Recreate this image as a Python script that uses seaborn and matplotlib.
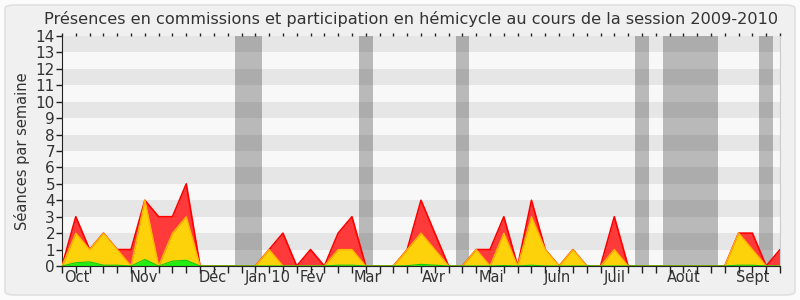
import matplotlib
matplotlib.use('Agg')
import matplotlib.pyplot as plt
import seaborn as sns
import pandas as pd
from matplotlib.patches import FancyBboxPatch

# ---- data ----
weeks = list(range(53))
total = [0, 3, 1, 2, 1, 1, 4, 3, 3, 5, 0, 0, 0, 0, 0, 1, 2, 0, 1, 0,
         2, 3, 0, 0, 0, 1, 4, 2, 0, 0, 1, 1, 3, 0, 4, 1, 0, 1, 0, 0,
         3, 0, 0, 0, 0, 0, 0, 0, 0, 2, 2, 0, 1]
presence = [0, 2, 1, 2, 1, 0, 4, 0, 2, 3, 0, 0, 0, 0, 0, 1, 0, 0, 0, 0,
            1, 1, 0, 0, 0, 1, 2, 1, 0, 0, 1, 0, 2, 0, 3, 1, 0, 1, 0, 0,
            1, 0, 0, 0, 0, 0, 0, 0, 0, 2, 1, 0, 0]
interventions = [0, 0.2, 0.25, 0.05, 0.05, 0, 0.4, 0, 0.3, 0.35, 0, 0, 0, 0, 0, 0, 0, 0, 0, 0,
                 0.05, 0.05, 0, 0, 0, 0.02, 0.1, 0.05, 0, 0, 0, 0, 0.03, 0, 0.05, 0, 0, 0, 0, 0,
                 0, 0, 0, 0, 0, 0, 0, 0, 0, 0.05, 0.05, 0, 0]
months = ['Oct', 'Nov', 'Déc', 'Jan 10', 'Fév', 'Mar', 'Avr', 'Mai', 'Juin', 'Juil', 'Août', 'Sept']
month_pos = [1.1, 5.9, 10.9, 14.9, 18.1, 22.1, 26.9, 31.1, 35.9, 40.0, 45.0, 50.0]
vacances = [(12.5, 14.5), (21.5, 22.5), (28.5, 29.5), (41.5, 42.5), (43.5, 47.5), (50.5, 51.5)]
title = "Présences en commissions et participation en hémicycle au cours de la session 2009-2010"
ylabel = "Séances par semaine"

df = pd.DataFrame({'week': weeks, 'total': total, 'presence': presence,
                   'interventions': interventions})

sns.set_style('white')
plt.rcParams['font.family'] = ['DejaVu Sans']
txt = '#333333'

fig = plt.figure(figsize=(8, 3), dpi=100, facecolor='#fbfbfb')
bg = FancyBboxPatch((5/800, 5/300), 790/800, 290/300,
                    boxstyle='round,pad=0,rounding_size=0.012',
                    transform=fig.transFigure, facecolor='#f0f0f0',
                    edgecolor='#e0e0e0', lw=1.2, zorder=-10)
fig.patches.append(bg)

ax = fig.add_axes([62/800, 34/300, 718/800, 230/300])
ax.set_zorder(5)
ax.set_facecolor('#f8f8f8')
for k in range(1, 14, 2):
    ax.axhspan(k, k + 1, color='#e6e6e6', lw=0, zorder=0)
for a, b in vacances:
    ax.axvspan(a, b, color='black', alpha=0.25, lw=0, zorder=1)

ax.fill_between(df['week'], df['total'], color='#ff3a3a', lw=0, zorder=2)
sns.lineplot(data=df, x='week', y='total', color='#ff0000', lw=1.2, ax=ax, zorder=3)
ax.fill_between(df['week'], df['presence'], color='#fdd20a', lw=0, zorder=4)
sns.lineplot(data=df, x='week', y='presence', color='#ffb400', lw=1.0, ax=ax, zorder=5)
ax.fill_between(df['week'], df['interventions'], color='#22ee11', lw=0, zorder=6)
sns.lineplot(data=df, x='week', y='interventions', color='#11cc11', lw=0.8, ax=ax, zorder=7)

ax.set_xlim(0, 52)
ax.set_ylim(0, 14)
ax.set_yticks(range(15))
ax.set_yticklabels([str(v) for v in range(15)], fontsize=11, color=txt)
ax.xaxis.remove_overlapping_locs = False
ax.set_xticks(weeks)
ax.set_xticklabels([''] * len(weeks))
ax.set_xticks(month_pos, minor=True)
ax.set_xticklabels(months, minor=True, fontsize=10.5, color=txt)
ax.tick_params(axis='x', which='major', direction='out', length=5, width=1,
               color='#222222', bottom=True, top=True)
ax.tick_params(axis='x', which='minor', length=0, pad=3, bottom=True, top=False)
ax.tick_params(axis='y', which='major', direction='out', length=4, width=1,
               color='#222222', left=True, pad=1)
ax.set_xlabel('')
ax.set_ylabel(ylabel, fontsize=10.5, color=txt, labelpad=4)

for t in ax.xaxis.get_major_ticks():
    t.tick2line.set_markersize(2)

ax.spines['top'].set_visible(False)
ax.spines['right'].set_color('#cccccc')
ax.spines['left'].set_color('#222222')
ax.spines['bottom'].set_color('#222222')
ax.spines['bottom'].set_zorder(10)

fig.text(411/800, 1 - 19/300, title, ha='center', va='center', fontsize=11.6, color=txt)

fig.savefig('out.png', dpi=100, facecolor=fig.get_facecolor())
